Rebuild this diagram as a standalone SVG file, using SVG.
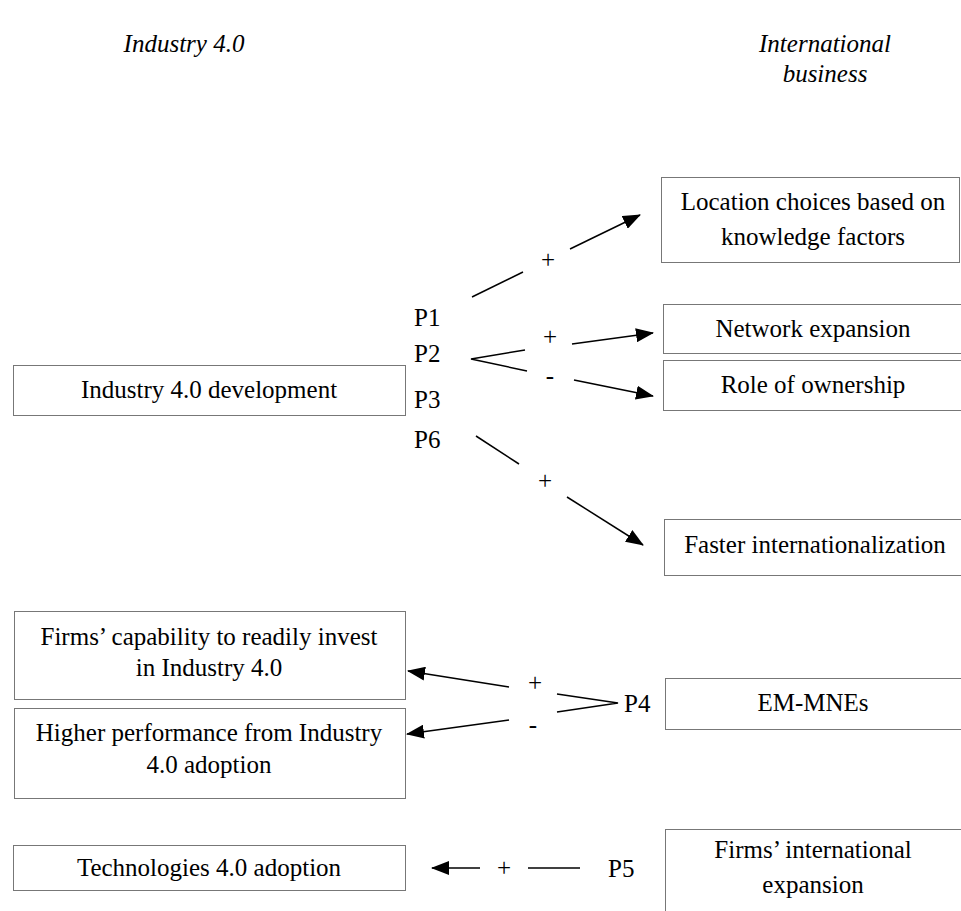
<svg xmlns="http://www.w3.org/2000/svg" width="961" height="911" viewBox="0 0 961 911" font-family="'Liberation Serif', 'Times New Roman', serif" font-size="25">
<style>
text{fill:#000}
.c{text-anchor:middle}
.h{font-style:italic}
.box{fill:#fff;stroke:#777;stroke-width:1}
.ln{stroke:#000;stroke-width:1.5;fill:none}
.ar{stroke:#000;stroke-width:1.5;fill:none;marker-end:url(#ah)}
</style>
<defs>
<marker id="ah" markerUnits="userSpaceOnUse" markerWidth="18" markerHeight="14" refX="17" refY="7" orient="auto">
<path d="M0,0 L18,7 L0,14 z" fill="#000"/>
</marker>
</defs>
<rect width="961" height="911" fill="#fff"/>
<g id="headers">
<text class="c h" x="184" y="52">Industry 4.0</text>
<text class="c h" x="825" y="52">International</text>
<text class="c h" x="825" y="82">business</text>
</g>
<g id="n-location"><rect class="box" x="661.5" y="177.5" width="298" height="85"/><text class="c" x="813" y="210">Location choices based on</text><text class="c" x="813" y="245">knowledge factors</text></g>
<g id="n-network"><rect class="box" x="663.5" y="304.5" width="305" height="49"/><text class="c" x="813" y="337">Network expansion</text></g>
<g id="n-ownership"><rect class="box" x="663.5" y="360.5" width="305" height="50"/><text class="c" x="813" y="393">Role of ownership</text></g>
<g id="n-i40dev"><rect class="box" x="13.5" y="365.5" width="392" height="50"/><text class="c" x="209" y="398">Industry 4.0 development</text></g>
<g id="n-faster"><rect class="box" x="664.5" y="519.5" width="305" height="56"/><text class="c" x="815" y="553">Faster internationalization</text></g>
<g id="n-capability"><rect class="box" x="14.5" y="611.5" width="391" height="88"/><text class="c" x="209" y="645">Firms’ capability to readily invest</text><text class="c" x="209" y="676">in Industry 4.0</text></g>
<g id="n-performance"><rect class="box" x="14.5" y="708.5" width="391" height="90"/><text class="c" x="209" y="741">Higher performance from Industry</text><text class="c" x="209" y="773">4.0 adoption</text></g>
<g id="n-emmnes"><rect class="box" x="665.5" y="678.5" width="305" height="51"/><text class="c" x="813" y="711">EM-MNEs</text></g>
<g id="n-tech"><rect class="box" x="13.5" y="845.5" width="392" height="45"/><text class="c" x="209" y="876">Technologies 4.0 adoption</text></g>
<g id="n-intlexp"><rect class="box" x="665.5" y="829.5" width="305" height="90"/><text class="c" x="813" y="858">Firms’ international</text><text class="c" x="813" y="893">expansion</text></g>
<g id="connectors">
<text x="414" y="326">P1</text>
<text x="414" y="362">P2</text>
<text x="414" y="408">P3</text>
<text x="414" y="448">P6</text>
<line class="ln" x1="472" y1="297" x2="523" y2="272"/>
<text class="c" x="548" y="268">+</text>
<line class="ar" x1="570" y1="249" x2="640" y2="215"/>
<polyline class="ln" points="525,350 471,359 527,371"/>
<text class="c" x="550" y="345">+</text>
<text class="c" x="550" y="384">-</text>
<line class="ar" x1="572" y1="344" x2="653" y2="333"/>
<line class="ar" x1="574" y1="380" x2="653" y2="396"/>
<line class="ln" x1="476" y1="436" x2="519" y2="464"/>
<text class="c" x="545" y="489">+</text>
<line class="ar" x1="567" y1="497" x2="643" y2="545"/>
<polyline class="ln" points="557,694 618,703 557,712"/>
<text x="624" y="712">P4</text>
<text class="c" x="535" y="691">+</text>
<text class="c" x="533" y="733">-</text>
<line class="ar" x1="509" y1="687" x2="408" y2="671"/>
<line class="ar" x1="509" y1="720" x2="407" y2="734"/>
<line class="ar" x1="480" y1="868" x2="432" y2="868"/>
<text class="c" x="504" y="876">+</text>
<line class="ln" x1="528" y1="868" x2="580" y2="868"/>
<text x="608" y="877">P5</text>
</g>
</svg>
